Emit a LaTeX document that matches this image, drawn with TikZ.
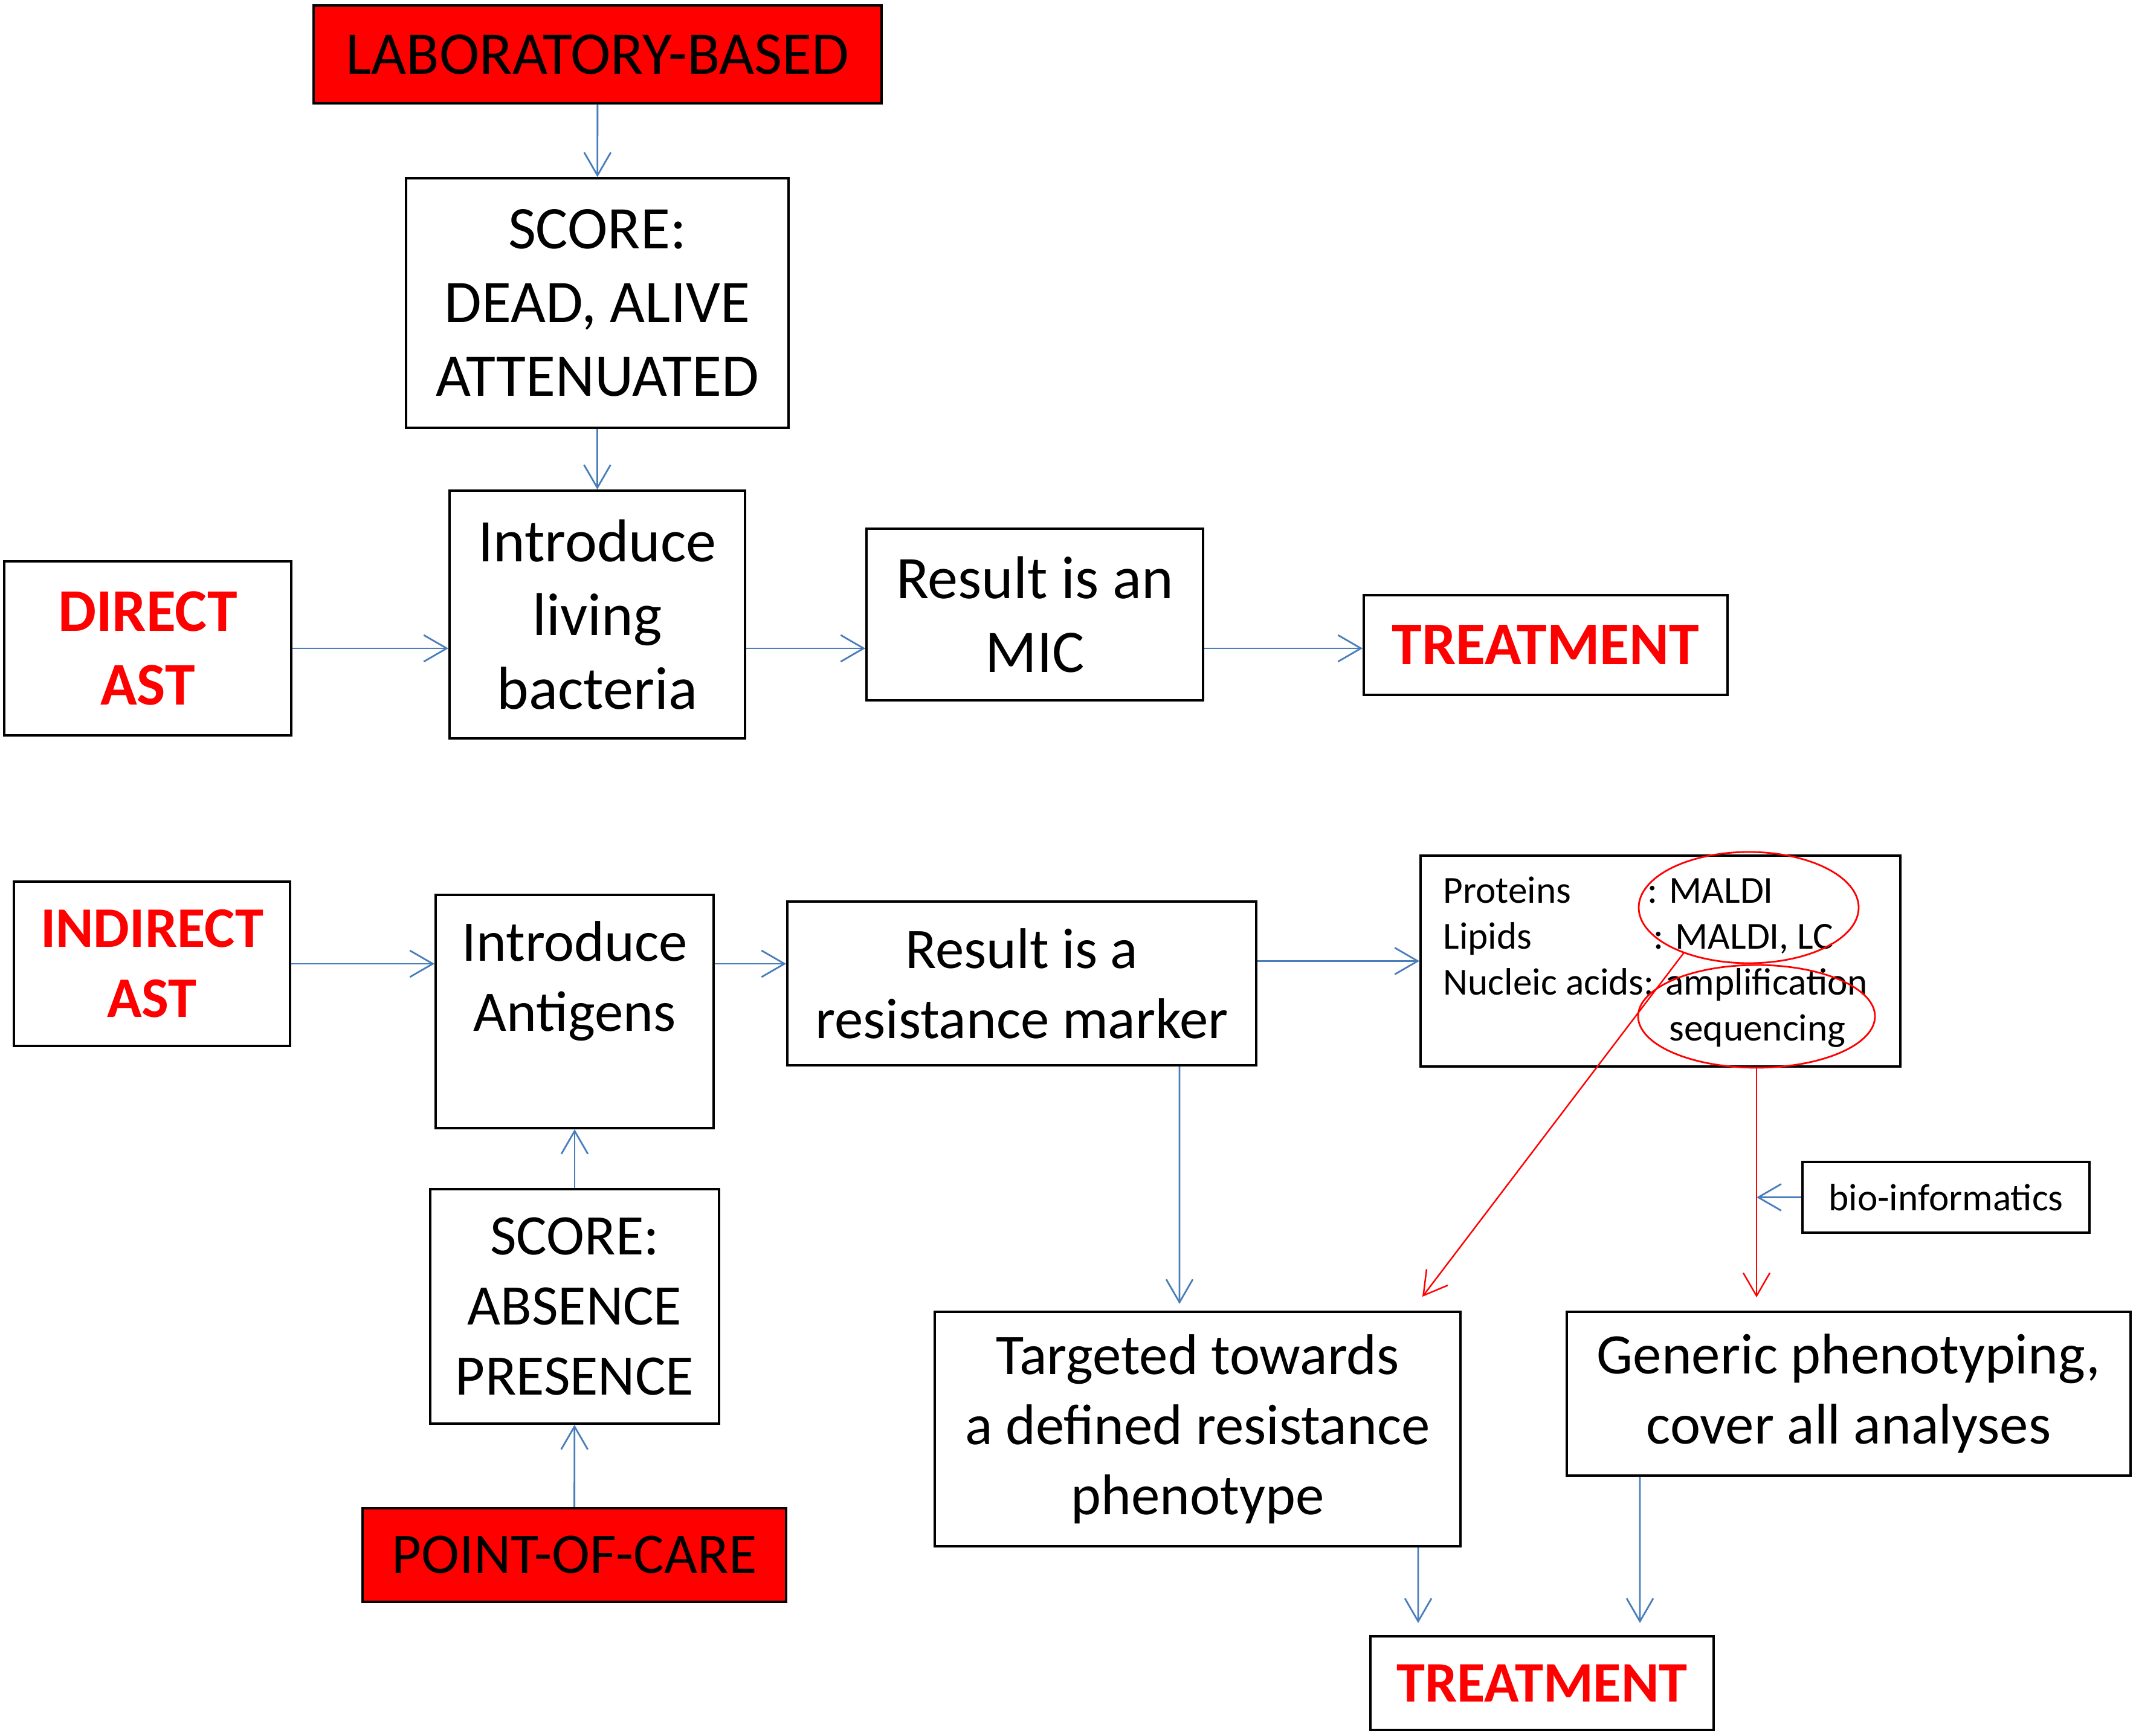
\documentclass[tikz,border=0pt]{standalone}
\usepackage{fontspec}
\setmainfont{Carlito}
\usetikzlibrary{arrows.meta,calc,shapes.geometric}
\definecolor{arrowblue}{RGB}{74,126,187}

\begin{document}
\begin{tikzpicture}[auto, inner sep=0pt,
    main node/.style={draw, line width=1.1pt, align=center, font=\fontsize{27}{33}\selectfont},
    big node/.style={main node, font=\fontsize{28.5}{34.7}\selectfont},
    goal node/.style={main node, text=red, font=\fontsize{27}{33}\selectfont\bfseries},
    start node/.style={main node, fill=red},
    flow/.style={color=arrowblue, line width=0.8pt, -{Straight Barb[length=0.38cm,width=0.44cm]}},
    red flow/.style={color=red, line width=0.7pt, -{Straight Barb[length=0.38cm,width=0.44cm]}},
    ring/.style={draw=red, line width=0.8pt, ellipse}]

  \useasboundingbox (0,0) rectangle (35.35,-28.73);

  \node[start node, big node, fill=red, minimum width=9.40cm, minimum height=1.62cm] (1) at (9.89,-0.90) {LABORATORY-BASED};
  \node[big node, minimum width=6.33cm, minimum height=4.13cm] (2) at (9.885,-5.015) {SCORE:\\DEAD, ALIVE\\ATTENUATED};
  \node[big node, minimum width=4.89cm, minimum height=4.10cm] (3) at (9.885,-10.17) {Introduce\\living\\bacteria};
  \node[goal node, font=\fontsize{28.5}{34.7}\selectfont\bfseries, minimum width=4.75cm, minimum height=2.88cm] (4) at (2.445,-10.73) {DIRECT\\AST};
  \node[big node, minimum width=5.57cm, minimum height=2.84cm] (5) at (17.125,-10.17) {Result is an\\MIC};
  \node[goal node, font=\fontsize{28.5}{34.7}\selectfont\bfseries, minimum width=6.02cm, minimum height=1.65cm] (6) at (25.58,-10.675) {TREATMENT};

  \node[goal node, minimum width=4.57cm, minimum height=2.72cm] (7) at (2.515,-15.95) {INDIRECT\\AST};
  \node[main node, minimum width=4.60cm, minimum height=3.86cm] (8) at (9.51,-16.74) {Introduce\\Antigens\\\mbox{}};
  \node[main node, minimum width=7.76cm, minimum height=2.71cm] (9) at (16.91,-16.275) {Result is a\\resistance marker};
  \node[main node, minimum width=7.94cm, minimum height=3.49cm] (10) at (27.48,-15.905) {};
  \node[anchor=north west, font=\fontsize{18}{21.6}\selectfont] (list) at (23.88,-14.41)
    {\begin{tabular}{@{}p{3.38cm}@{}l@{}}
      Proteins & : MALDI\\
      Lipids & \hspace{0.1cm}: MALDI, LC\\
      \multicolumn{2}{@{}l@{}}{Nucleic acids: amplification}\\
      & \phantom{: }sequencing
    \end{tabular}};
  \node[ring, minimum width=3.64cm, minimum height=1.84cm] (17) at (28.94,-15.02) {};
  \node[ring, minimum width=3.92cm, minimum height=1.70cm] (18) at (29.07,-16.82) {};

  \node[main node, minimum width=4.78cm, minimum height=3.88cm] (11) at (9.51,-21.62) {SCORE:\\ABSENCE\\PRESENCE};
  \node[start node, minimum width=7.01cm, minimum height=1.55cm] (12) at (9.505,-25.735) {POINT-OF-CARE};
  \node[main node, minimum width=8.70cm, minimum height=3.88cm] (13) at (19.82,-23.65) {Targeted towards\\a defined resistance\\phenotype};
  \node[main node, minimum width=9.33cm, minimum height=2.71cm] (14) at (30.595,-23.065) {Generic phenotyping,\\cover all analyses};
  \node[main node, font=\fontsize{18}{21.6}\selectfont, minimum width=4.75cm, minimum height=1.17cm] (15) at (32.205,-19.815) {bio-informatics};
  \node[goal node, minimum width=5.68cm, minimum height=1.55cm] (16) at (25.52,-27.855) {TREATMENT};
  \coordinate (t) at (23.54,-21.46);

  \path[flow]
    (1) edge (2)
    (2) edge (3)
    (4.east) edge (4.east -| 3.west)
    (4.east -| 3.east) edge (4.east -| 5.west)
    (4.east -| 5.east) edge (4.east -| 6.west)
    (7.east) edge (7.east -| 8.west)
    (7.east -| 8.east) edge (7.east -| 9.west)
    (10.west -| 9.east) edge (10.west)
    ($(9.south)+(2.61,0)$) edge ($(13.north)+(-0.30,0.11)$)
    (11) edge (8)
    (12) edge (11)
    ($(13.south)+(3.65,0)$) edge ($(16.north)+(-2.05,0.2)$)
    ($(14.south)+(-3.455,0)$) edge ($(16.north)+(1.62,0.2)$)
    (15.west) edge (15.west -| 18.south);

  \path[red flow]
    (17.215) edge (t)
    (18.south) edge ($(18.south |- 14.north)+(0,0.22)$);
\end{tikzpicture}
\end{document}
